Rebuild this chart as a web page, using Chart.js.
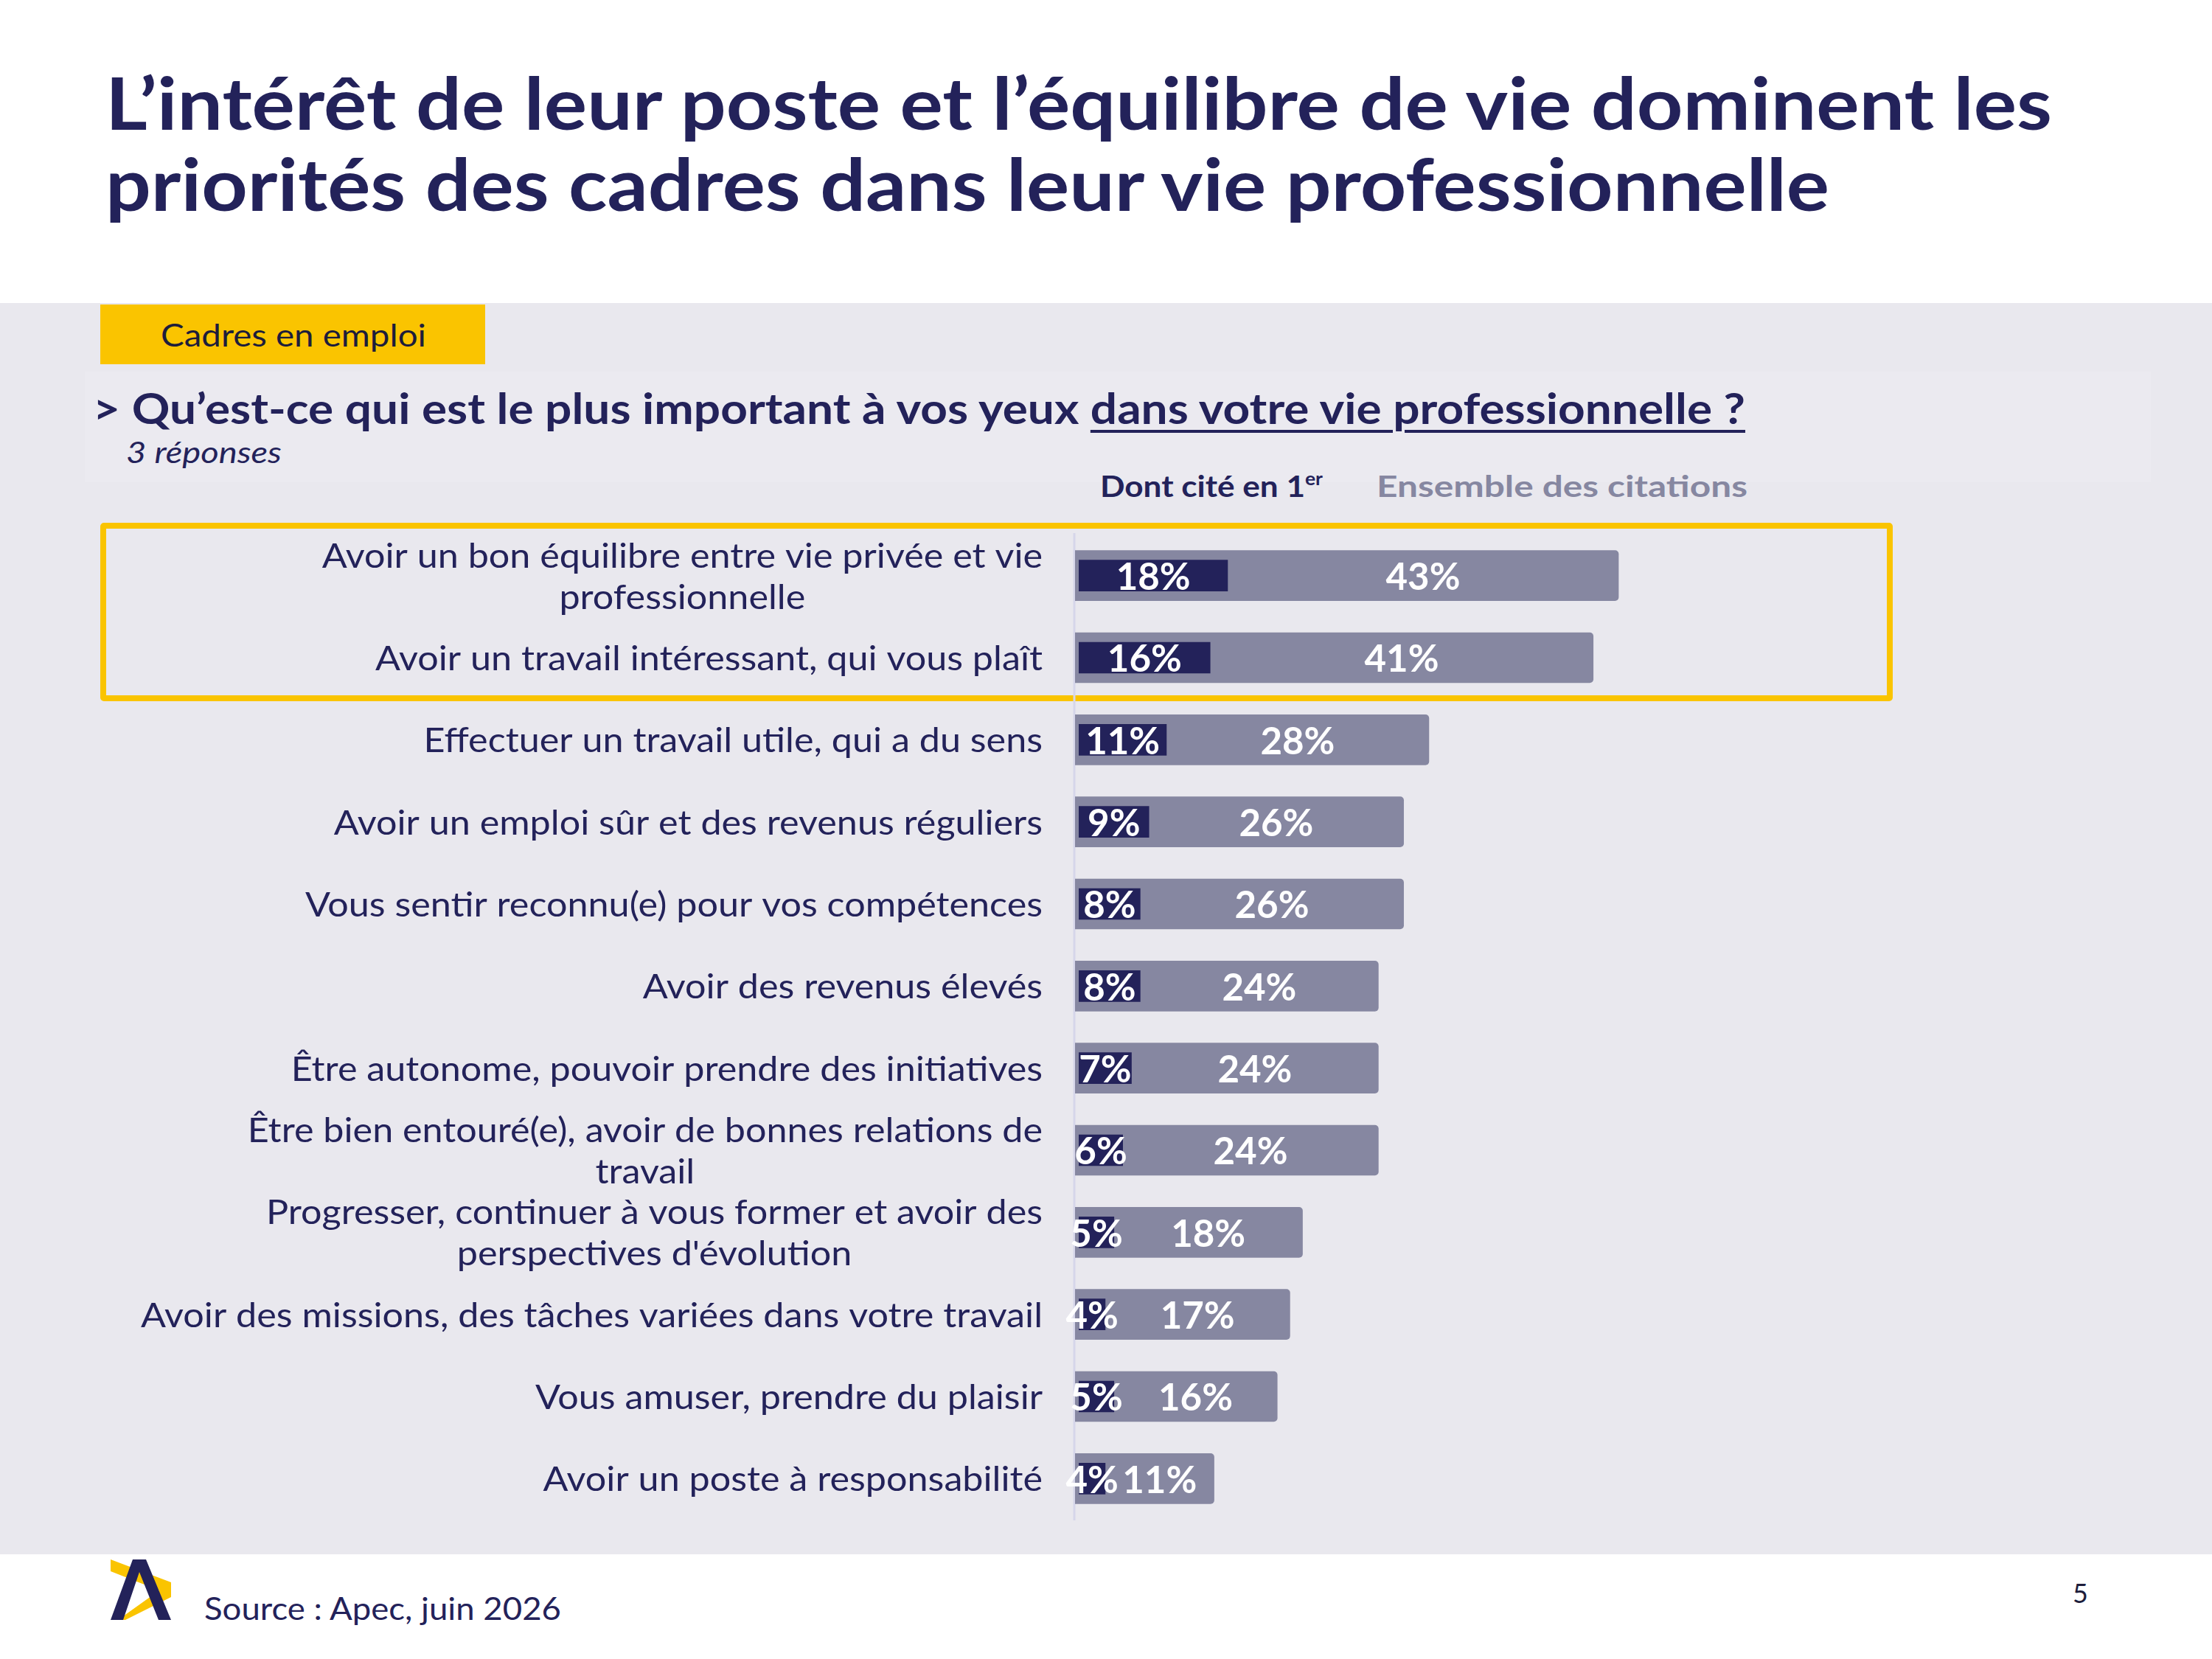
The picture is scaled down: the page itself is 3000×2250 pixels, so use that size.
<!DOCTYPE html>
<html lang="fr">
<head>
<meta charset="utf-8">
<script src="https://cdn.jsdelivr.net/npm/chart.js"></script>
<style>
  body { margin: 0; width: 3000px; height: 2250px; background: #fff; position: relative; overflow: hidden; font-family: Lato, "Noto Sans", sans-serif; color: #23225a; }
  .abs { position: absolute; }
  .fit { display: inline-block; white-space: nowrap; transform-origin: left top; }
  #panel { left: 0; top: 411px; width: 3000px; height: 1697px; background: #e9e8ee; }
  #subpanel { left: 115px; top: 504px; width: 2802px; height: 150px; background: #ebeaf0; }
  #tag { left: 136px; top: 413px; width: 522px; height: 81px; background: #fac400; }
  #highlight { left: 136px; top: 709px; width: 2431px; height: 242px; box-sizing: border-box; border: 8px solid #fac400; border-radius: 5px; }
  canvas { position: absolute; left: 0; top: 0; }
</style>
</head>
<body>
<div id="panel" class="abs"></div>
<div id="subpanel" class="abs"></div>
<div id="tag" class="abs"></div>
<div id="highlight" class="abs"></div>

<div class="abs" style="left:143px; top:84px; font-size:97px; line-height:110px; font-weight:700;">
  <span class="fit" data-w="2640">L’intérêt de leur poste et l’équilibre de vie dominent les</span><br>
  <span class="fit" data-w="2338">priorités des cadres dans leur vie professionnelle</span>
</div>

<div class="abs" style="left:218px; top:432px; font-size:43px; line-height:1; color:#1d1d3b;">
  <span class="fit" data-w="360">Cadres en emploi</span>
</div>

<div class="abs" style="left:126px; top:524px; font-size:58px; line-height:1; font-weight:700;">
  <span class="fit" data-w="2241">&gt; Qu’est-ce qui est le plus important à vos yeux <span style="text-decoration:underline; text-decoration-thickness:4px; text-underline-offset:8px;">dans votre vie professionnelle ?</span></span>
</div>

<div class="abs" style="left:171px; top:593px; font-size:40px; line-height:1; font-style:italic;">
  <span class="fit" data-w="211">3 réponses</span>
</div>

<div class="abs" style="left:1492px; top:637px; font-size:40px; line-height:1; font-weight:700;">
  <span class="fit" data-w="302">Dont cité en 1<sup style="font-size:24px; vertical-align:16px;">er</sup></span>
</div>
<div class="abs" style="left:1867px; top:638px; font-size:41px; line-height:1; font-weight:700; color:#8687a1;">
  <span class="fit" data-w="503">Ensemble des citations</span>
</div>

<svg class="abs" style="left:130px; top:2100px;" width="110" height="110" viewBox="0 0 110 110">
  <polygon points="20,15 102,46 102,66 40,97 30,97 86,57 20,31" fill="#fac400"/>
  <polygon points="20,97 50,15 68,15 102,97 85,97 59,32 37,97" fill="#23225a"/>
</svg>
<div class="abs" style="left:277px; top:2160px; font-size:42px; line-height:1; color:#23225a;">
  <span class="fit" data-w="484">Source : Apec, juin 2026</span>
</div>
<div class="abs" style="left:2811px; top:2142px; font-size:36px; line-height:1; color:#1d1d3b;">5</div>

<canvas id="chart" width="3000" height="2250"></canvas>

<script>
const categories = [
    ["Avoir un bon équilibre entre vie privée et vie", "professionnelle"],
    ["Avoir un travail intéressant, qui vous plaît"],
    ["Effectuer un travail utile, qui a du sens"],
    ["Avoir un emploi sûr et des revenus réguliers"],
    ["Vous sentir reconnu(e) pour vos compétences"],
    ["Avoir des revenus élevés"],
    ["Être autonome, pouvoir prendre des initiatives"],
    ["Être bien entouré(e), avoir de bonnes relations de", "travail"],
    ["Progresser, continuer à vous former et avoir des", "perspectives d'évolution"],
    ["Avoir des missions, des tâches variées dans votre travail"],
    ["Vous amuser, prendre du plaisir"],
    ["Avoir un poste à responsabilité"]
];
const citeEnPremier = [18, 16, 11, 9, 8, 8, 7, 6, 5, 4, 5, 4];
const ensembleCitations = [43, 41, 28, 26, 26, 24, 24, 24, 18, 17, 16, 11];

// fit the html text lines to the widths measured on the reference
document.querySelectorAll(".fit").forEach((el) => {
    const w = el.getBoundingClientRect().width;
    el.style.transform = `scaleX(${el.dataset.w / w})`;
});

const NAVY = "#23225a";

const labelsPlugin = {
    id: "labels",
    beforeDatasetsDraw(chart) {
        const { ctx, chartArea } = chart;
        ctx.save();
        ctx.strokeStyle = "#d6d6ea";
        ctx.lineWidth = 3;
        ctx.beginPath();
        ctx.moveTo(chartArea.left - 1, chartArea.top - 2);
        ctx.lineTo(chartArea.left - 1, chartArea.bottom + 1);
        ctx.stroke();
        ctx.restore();
    },
    afterDatasetsDraw(chart) {
        const { ctx } = chart;
        const yScale = chart.scales.y;
        const dark = chart.getDatasetMeta(0).data;
        const light = chart.getDatasetMeta(1).data;

        // category labels: block right aligned, lines centered inside it
        // (slightly stretched, the original face is wider than Lato)
        const stretch = 1.07;
        const right = chart.chartArea.left - 44;
        const lineH = 56;
        ctx.save();
        ctx.font = "47px Lato, 'Noto Sans', sans-serif";
        ctx.fillStyle = NAVY;
        ctx.textBaseline = "middle";
        ctx.textAlign = "center";
        ctx.scale(stretch, 1);
        categories.forEach((lines, i) => {
            const y = yScale.getPixelForValue(i);
            const maxW = Math.max(...lines.map((l) => ctx.measureText(l).width)) * stretch;
            const cx = (right - maxW / 2) / stretch;
            lines.forEach((l, k) => {
                ctx.fillText(l, cx, y + (k - (lines.length - 1) / 2) * lineH + 2);
            });
        });
        ctx.restore();

        // value labels
        ctx.save();
        ctx.font = "bold 51px Lato, 'Noto Sans', sans-serif";
        ctx.fillStyle = "#ffffff";
        ctx.textBaseline = "middle";
        ctx.textAlign = "center";
        dark.forEach((bar, i) => {
            const y = bar.y + 3;
            ctx.fillText(citeEnPremier[i] + "%", (bar.x + bar.base) / 2, y);
            ctx.fillText(ensembleCitations[i] + "%", (bar.x + light[i].x) / 2, y);
        });
        ctx.restore();
    }
};

new Chart(document.getElementById("chart"), {
    type: "bar",
    data: {
        labels: categories,
        datasets: [
            {
                label: "Dont cité en 1er",
                data: citeEnPremier,
                xAxisID: "x2",
                backgroundColor: NAVY,
                barThickness: 42,
                base: 1,
                grouped: false,
                order: 0
            },
            {
                label: "Ensemble des citations",
                data: ensembleCitations,
                xAxisID: "x",
                backgroundColor: "#8687a1",
                barThickness: 68,
                borderRadius: 5,
                grouped: false,
                order: 1
            }
        ]
    },
    options: {
        indexAxis: "y",
        responsive: false,
        animation: false,
        layout: { padding: { left: 1458, right: 142, top: 725, bottom: 189 } },
        plugins: {
            legend: { display: false },
            tooltip: { enabled: false }
        },
        scales: {
            y: { display: false, offset: true },
            x: { type: "linear", display: false, min: 0, max: 81.68 },
            x2: { type: "linear", axis: "x", display: false, min: 0.55, max: 118.6 }
        }
    },
    plugins: [labelsPlugin]
});
</script>
</body>
</html>
